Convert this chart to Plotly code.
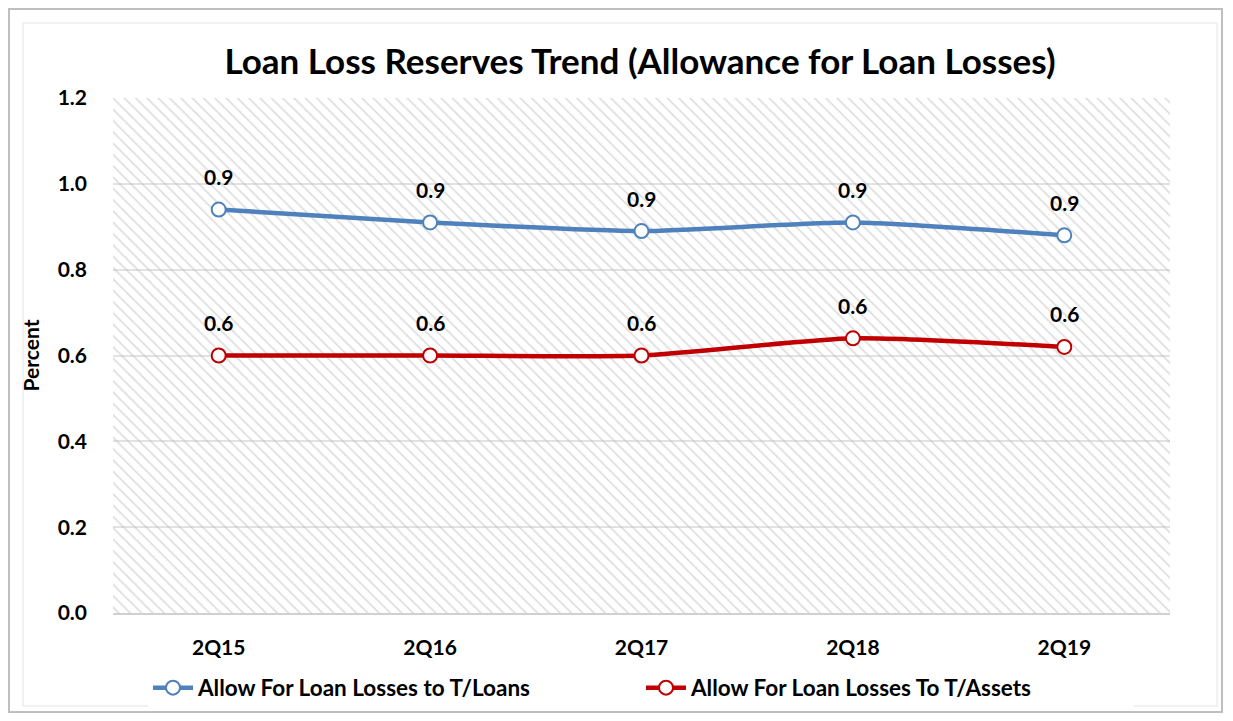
import plotly.graph_objects as go

categories = ["2Q15", "2Q16", "2Q17", "2Q18", "2Q19"]
loans_ratio = [0.94, 0.91, 0.89, 0.91, 0.88]
assets_ratio = [0.60, 0.60, 0.60, 0.64, 0.62]
series_names = ["Allow For Loan Losses to T/Loans", "Allow For Loan Losses To T/Assets"]
y_ticks = [0.0, 0.2, 0.4, 0.6, 0.8, 1.0, 1.2]

BLUE = "#4F81BD"
RED = "#C00000"
FONT = "Lato"

W, H = 1217, 705
L, R, T, B = 105, 55, 90, 100
PW, PH = W - L - R, H - T - B

fig = go.Figure()

# hatched plot background on hidden base axes (drawn beneath the overlay data axes)
fig.add_trace(go.Scatter(
    x=[0, 1, 1, 0, 0], y=[0, 0, 1, 1, 0], xaxis="x", yaxis="y",
    mode="none", fill="toself", fillcolor="rgba(0,0,0,0)",
    fillpattern=dict(shape="\\", fgcolor="#bdbdbd", bgcolor="rgba(255,255,255,0)", size=8, solidity=0.22),
    hoverinfo="skip", showlegend=False,
))

for name, vals, color in [(series_names[0], loans_ratio, BLUE), (series_names[1], assets_ratio, RED)]:
    fig.add_trace(go.Scatter(
        x=categories, y=vals, name=name, mode="lines+markers", xaxis="x2", yaxis="y2",
        line=dict(color=color, width=4.5, shape="spline", smoothing=0.6),
        marker=dict(size=14, color="white", line=dict(color=color, width=2)),
    ))
    for c, v in zip(categories, vals):
        fig.add_annotation(x=c, y=v, xref="x2", yref="y2", text=f"{v:.1f}", showarrow=False,
                           yshift=33, font=dict(family=FONT, size=21, color="black", weight="bold"))

# outer borders
fig.add_shape(type="rect", xref="paper", yref="paper",
              x0=(1 - L) / PW, x1=(1214 - L) / PW, y0=-(704 - (T + PH)) / PH, y1=(T + PH - 1) / PH,
              line=dict(color="#bfbfbf", width=2), layer="below")
fig.add_shape(type="rect", xref="paper", yref="paper",
              x0=(15 - L) / PW, x1=(1209 - L) / PW, y0=-(698 - (T + PH)) / PH, y1=(T + PH - 15) / PH,
              line=dict(color="#ededed", width=1.5), layer="below")

tickfont = dict(family=FONT, size=21, color="black", weight="bold")
fig.update_layout(
    width=W, height=H,
    margin=dict(l=L, r=R, t=T, b=B, autoexpand=False),
    paper_bgcolor="white", plot_bgcolor="white",
    title=dict(text="Loan Loss Reserves Trend (Allowance for Loan Losses)",
               x=632 / W, xanchor="center", y=1 - 54 / H, yanchor="middle",
               font=dict(family=FONT, size=35, color="black", weight="bold")),
    font=dict(family=FONT, color="black"),
    xaxis=dict(range=[0, 1], visible=False),
    yaxis=dict(range=[0, 1], visible=False),
    xaxis2=dict(overlaying="x", type="category", range=[-0.5, 4.5], showgrid=False,
                showline=True, linecolor="#d0d0d0", linewidth=1.5,
                tickfont=tickfont, ticks="", ticklabelstandoff=15),
    yaxis2=dict(overlaying="y", range=[0, 1.2], tickvals=y_ticks, tickformat=".1f",
                showgrid=True, gridcolor="#e2e2e2", gridwidth=1.5, zeroline=False,
                tickfont=tickfont, ticklabelstandoff=25,
                title=dict(text="Percent", font=dict(family=FONT, size=21, color="black", weight="bold"), standoff=12)),
    legend=dict(orientation="h", x=(140 - L) / PW, xanchor="left", y=-(680 - (T + PH)) / PH, yanchor="middle",
                font=dict(family=FONT, size=22.5, color="black", weight="bold"),
                entrywidth=438, entrywidthmode="pixels", itemwidth=40,
                traceorder="normal"),
    showlegend=True,
)

fig.write_html("out.html")
